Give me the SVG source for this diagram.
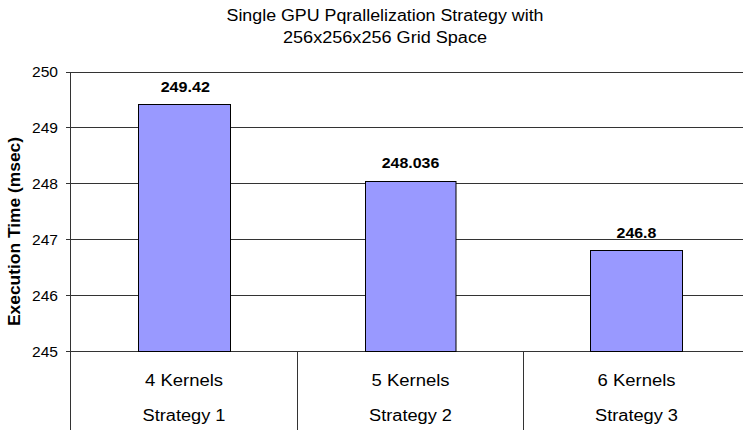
<svg xmlns="http://www.w3.org/2000/svg" width="743" height="430" viewBox="0 0 743 430">
<style>
text{font-family:"Liberation Sans",Arial,sans-serif;fill:#000}
.grid{stroke:#333;stroke-width:1}
.bar{fill:#9999ff;stroke:#000;stroke-width:1}
.tick{font-size:14px;text-anchor:end}
.val{font-size:14px;font-weight:bold;text-anchor:middle}
.cat{font-size:16px;text-anchor:middle}
</style>
<rect width="743" height="430" fill="#fff"/>
<g id="title">
<text x="385" y="21" font-size="16" text-anchor="middle" textLength="317" lengthAdjust="spacingAndGlyphs">Single GPU Pqrallelization Strategy with</text>
<text x="385" y="43" font-size="16" text-anchor="middle" textLength="204" lengthAdjust="spacingAndGlyphs">256x256x256 Grid Space</text>
</g>
<g id="axes">
<line class="grid" x1="66" y1="72.5" x2="743" y2="72.5" stroke="#888"/>
<line class="grid" x1="66" y1="127.5" x2="743" y2="127.5"/>
<line class="grid" x1="66" y1="183.5" x2="743" y2="183.5"/>
<line class="grid" x1="66" y1="239.5" x2="743" y2="239.5"/>
<line class="grid" x1="66" y1="295.5" x2="743" y2="295.5"/>
<line class="grid" x1="66" y1="351.5" x2="743" y2="351.5"/>
<line class="grid" x1="70.5" y1="72" x2="70.5" y2="430" stroke="#666"/>
<line class="grid" x1="297.5" y1="351" x2="297.5" y2="430" stroke="#666"/>
<line class="grid" x1="523.5" y1="351" x2="523.5" y2="430" stroke="#666"/>
<text class="tick" x="58" y="77" textLength="26" lengthAdjust="spacingAndGlyphs">250</text>
<text class="tick" x="58" y="132.5" textLength="26" lengthAdjust="spacingAndGlyphs">249</text>
<text class="tick" x="58" y="188.5" textLength="26" lengthAdjust="spacingAndGlyphs">248</text>
<text class="tick" x="58" y="244.5" textLength="26" lengthAdjust="spacingAndGlyphs">247</text>
<text class="tick" x="58" y="300.5" textLength="26" lengthAdjust="spacingAndGlyphs">246</text>
<text class="tick" x="58" y="356.5" textLength="26" lengthAdjust="spacingAndGlyphs">245</text>
<text x="19.5" y="231.5" font-size="16" font-weight="bold" text-anchor="middle" textLength="189" lengthAdjust="spacingAndGlyphs" transform="rotate(-90 19.5 231.5)">Execution Time (msec)</text>
</g>
<g id="bar1">
<rect class="bar" x="138.5" y="104.5" width="92" height="247"/>
<text class="val" x="185.3" y="92.3" textLength="49.3" lengthAdjust="spacingAndGlyphs">249.42</text>
<text class="cat" x="184" y="386" textLength="78" lengthAdjust="spacingAndGlyphs">4 Kernels</text>
<text class="cat" x="184" y="421" textLength="83" lengthAdjust="spacingAndGlyphs">Strategy 1</text>
</g>
<g id="bar2">
<rect class="bar" x="365.5" y="181.5" width="90.5" height="170"/>
<text class="val" x="410.5" y="168.3" textLength="57.6" lengthAdjust="spacingAndGlyphs">248.036</text>
<text class="cat" x="410.5" y="386" textLength="78" lengthAdjust="spacingAndGlyphs">5 Kernels</text>
<text class="cat" x="410.5" y="421" textLength="83" lengthAdjust="spacingAndGlyphs">Strategy 2</text>
</g>
<g id="bar3">
<rect class="bar" x="590.5" y="250.5" width="92" height="101"/>
<text class="val" x="636.5" y="238" textLength="39.8" lengthAdjust="spacingAndGlyphs">246.8</text>
<text class="cat" x="636.5" y="386" textLength="78" lengthAdjust="spacingAndGlyphs">6 Kernels</text>
<text class="cat" x="636.5" y="421" textLength="83" lengthAdjust="spacingAndGlyphs">Strategy 3</text>
</g>
<g id="connectors"></g>
</svg>
